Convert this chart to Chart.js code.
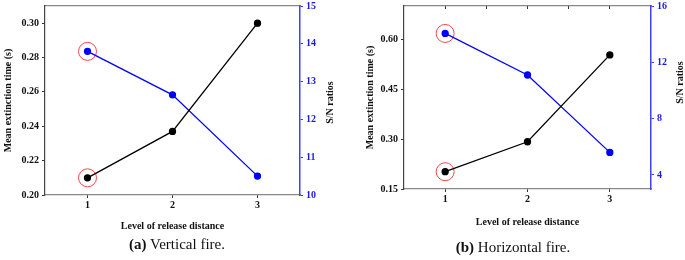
<!DOCTYPE html>
<html>
<head>
<meta charset="utf-8">
<script src="https://cdn.jsdelivr.net/npm/chart.js@4"></script>
<style>
  body { margin: 0; background: #fff; }
  #wrap { position: relative; width: 685px; height: 260px; overflow: hidden; }
  .box { position: absolute; top: 0; height: 236px; }
  .cap { position: absolute; font-family: "Liberation Serif", serif; font-size: 15px; color: #111; white-space: nowrap; transform: translate(-50%, -50%); }
</style>
</head>
<body>
<div id="wrap">
  <div class="box" style="left:0;width:345px"><canvas id="vert"></canvas></div>
  <div class="box" style="left:345px;width:340px"><canvas id="horiz"></canvas></div>
  <div class="cap" style="left:177px;top:244px"><b>(a)</b> Vertical fire.</div>
  <div class="cap" style="left:513px;top:247px"><b>(b)</b> Horizontal fire.</div>
</div>
<script>
// levels of release distance
const levels = [1, 2, 3];
const highlight = 0; // circled point (level 1)

// (a) vertical fire
const vertTime = [0.210, 0.237, 0.300];
const vertSN = [13.8, 12.65, 10.5];
const vertTimeTicks = [0.20, 0.22, 0.24, 0.26, 0.28, 0.30];
const vertSNTicks = [10, 11, 12, 13, 14, 15];

// (b) horizontal fire
const horizTime = [0.202, 0.292, 0.553];
const horizSN = [14.05, 11.1, 5.6];
const horizTimeTicks = [0.15, 0.30, 0.45, 0.60];
const horizSNTicks = [4, 8, 12, 16];

const levelTicks = [1, 2, 3];
const topTicks = [1, 1.5, 2, 2.5, 3];

Chart.defaults.font.family = "'Liberation Serif', serif";
Chart.defaults.font.weight = "bold";
Chart.defaults.font.size = 10;
Chart.defaults.color = "#111";

const BLUE = "#0000ff";
const pts = (ys) => levels.map((x, i) => ({ x: x, y: ys[i] }));
const setTicks = (arr) => (s) => { s.ticks = arr.map(v => ({ value: v })); };
// fixed axis width, and no extra room asked for the end labels
const setW = (w) => (s) => { s.width = w; s.paddingTop = 0; s.paddingBottom = 0; };
const setH = (h) => (s) => { s.height = h; s.paddingLeft = 0; s.paddingRight = 0; };

// right axis title reads bottom-to-top in the original, Chart.js turns it the other way
const snTitle = {
  id: "snTitle",
  afterDraw(chart, args, opts) {
    const s = chart.scales.y2, ctx = chart.ctx;
    ctx.save();
    ctx.translate(s.right - opts.inset, (s.top + s.bottom) / 2 + opts.dy);
    ctx.rotate(-Math.PI / 2);
    ctx.font = "bold 10px 'Liberation Serif', serif";
    ctx.fillStyle = "#111";
    ctx.textAlign = "center";
    ctx.textBaseline = "middle";
    ctx.fillText("S/N ratios", 0, 0);
    ctx.restore();
  }
};

function build(id, o) {
  new Chart(document.getElementById(id), {
    type: "line",
    data: {
      datasets: [
        { data: pts(o.time), yAxisID: "y", borderColor: "#000", backgroundColor: "#000",
          borderWidth: 1.3, pointRadius: 3, tension: 0 },
        { data: pts(o.sn), yAxisID: "y2", borderColor: BLUE, backgroundColor: BLUE,
          borderWidth: 1.3, pointRadius: 3, tension: 0 },
        { data: [pts(o.time)[highlight]], yAxisID: "y", showLine: false, pointRadius: 9,
          borderColor: "#f04848", backgroundColor: "rgba(0,0,0,0)", borderWidth: 1 },
        { data: [pts(o.sn)[highlight]], yAxisID: "y2", showLine: false, pointRadius: 9,
          borderColor: "#f04848", backgroundColor: "rgba(0,0,0,0)", borderWidth: 1 }
      ]
    },
    options: {
      responsive: true,
      maintainAspectRatio: false,
      animation: false,
      layout: { autoPadding: false, padding: { top: 6, left: 0, right: 0, bottom: 0 } },
      plugins: {
        legend: { display: false },
        tooltip: { enabled: false },
        snTitle: { inset: o.snInset, dy: o.snDy }
      },
      scales: {
        x: {
          type: "linear", position: "bottom", min: 0.5, max: 3.5,
          afterBuildTicks: setTicks(levelTicks), afterFit: setH(o.xH),
          ticks: { padding: 1, color: "#111", callback: v => String(v) },
          grid: { drawOnChartArea: false, tickLength: 3, color: "#333" },
          border: { color: "#888", width: 1.2 },
          title: { display: true, text: "Level of release distance", color: "#111",
                   padding: { top: 0, bottom: o.xTitlePad } }
        },
        xTop: {
          type: "linear", position: "top", min: 0.5, max: 3.5,
          afterBuildTicks: setTicks(o.topTicks), afterFit: setH(0),
          ticks: { display: false },
          grid: { drawOnChartArea: false, drawTicks: o.topTicks.length > 0, tickLength: -3, color: "#333" },
          border: { color: "#888", width: 1.2 }
        },
        y: {
          position: "left", min: o.tMin, max: o.tMax,
          afterBuildTicks: setTicks(o.tTicks), afterFit: setW(o.yW),
          ticks: { padding: 3, color: "#111", callback: v => v.toFixed(2) },
          grid: { drawOnChartArea: false, tickLength: 3, color: "#333" },
          border: { color: "#444", width: 1.2 },
          title: { display: true, text: "Mean extinction time (s)", color: "#111",
                   padding: { top: o.yTitlePad, bottom: 0 } }
        },
        y2: {
          position: "right", min: o.sMin, max: o.sMax,
          afterBuildTicks: setTicks(o.sTicks), afterFit: setW(o.y2W),
          ticks: { padding: 3, color: "#1a1ae0", callback: v => String(v) },
          grid: { drawOnChartArea: false, tickLength: 3, color: "#3a3aff" },
          border: { color: "#4040ff", width: 1.5 }
        }
      }
    },
    plugins: [snTitle]
  });
}

build("vert", {
  time: vertTime, sn: vertSN,
  tMin: 0.20, tMax: 0.31, tTicks: vertTimeTicks,
  sMin: 10, sMax: 15, sTicks: vertSNTicks,
  topTicks: [],
  yW: 45, y2W: 45, xH: 41,
  yTitlePad: 2, xTitlePad: 4,
  snInset: 15, snDy: 2
});

build("horiz", {
  time: horizTime, sn: horizSN,
  tMin: 0.15, tMax: 0.70, tTicks: horizTimeTicks,
  sMin: 3, sMax: 16, sTicks: horizSNTicks,
  topTicks: topTicks,
  yW: 59, y2W: 34, xH: 47,
  yTitlePad: 19, xTitlePad: 8,
  snInset: 5, snDy: -15
});
</script>
</body>
</html>
